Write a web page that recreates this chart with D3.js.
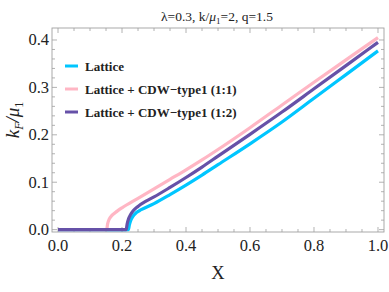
<!DOCTYPE html>
<html>
<head>
<meta charset="utf-8">
<script src="https://cdn.jsdelivr.net/npm/d3@7"></script>
<style>
  body { margin: 0; background: #fff; }
  text { font-family: "Liberation Serif", "DejaVu Serif", serif; }
</style>
</head>
<body>
<svg id="chart" width="389" height="292"></svg>
<script>
// values
const xLattice = [0, 0.22, 0.223, 0.227, 0.233, 0.245, 0.26, 0.3, 0.35, 0.4, 0.45, 0.5, 0.6, 0.7, 0.8, 0.9, 1.0]
const yLattice = [0, 0, 0.01, 0.019, 0.027, 0.036, 0.042, 0.055, 0.074, 0.094, 0.115, 0.137, 0.181, 0.227, 0.277, 0.327, 0.377]

const xCdw11 = [0, 0.152, 0.155, 0.16, 0.17, 0.185, 0.2, 0.25, 0.3, 0.35, 0.4, 0.45, 0.5, 0.6, 0.7, 0.8, 0.9, 1.0]
const yCdw11 = [0, 0, 0.012, 0.022, 0.031, 0.039, 0.046, 0.066, 0.086, 0.106, 0.126, 0.147, 0.169, 0.215, 0.263, 0.311, 0.358, 0.405]

const xCdw12 = [0, 0.213, 0.216, 0.22, 0.227, 0.235, 0.25, 0.275, 0.3, 0.35, 0.4, 0.45, 0.5, 0.6, 0.7, 0.8, 0.9, 1.0]
const yCdw12 = [0, 0, 0.012, 0.022, 0.032, 0.04, 0.049, 0.06, 0.069, 0.089, 0.11, 0.132, 0.155, 0.201, 0.248, 0.297, 0.346, 0.395]

const seriesNames = ["Lattice", "Lattice + CDW\u2212type1 (1:1)", "Lattice + CDW\u2212type1 (1:2)"]
const seriesColors = ["#00c6ff", "#ffb6c4", "#6651a8"]

const xTicks = [0, 0.2, 0.4, 0.6, 0.8, 1.0]
const yTicks = [0, 0.1, 0.2, 0.3, 0.4]

const svg = d3.select("#chart")
const margin = { left: 52, right: 5, top: 28, bottom: 60 }
const width = 389, height = 292

const x = d3.scaleLinear().domain([-0.0188, 1.0188]).range([margin.left, width - margin.right])
const y = d3.scaleLinear().domain([-0.005, 0.4253]).range([height - margin.bottom, margin.top])

const frameColor = "#a0a0a0"
const x0 = x.range()[0], x1 = x.range()[1]
const y0 = y.range()[0], y1 = y.range()[1]

// ticks (major + minor) on all four sides, pointing inward
const xMinor = d3.range(0, 1.0001, 0.05)
const yMinor = d3.range(0, 0.42, 0.02)
const ticks = svg.append("g").attr("stroke", frameColor).attr("stroke-width", 0.8)
xMinor.forEach(v => {
  const major = xTicks.some(t => Math.abs(t - v) < 1e-6)
  const len = major ? 5 : 3
  ticks.append("line").attr("x1", x(v)).attr("x2", x(v)).attr("y1", y0).attr("y2", y0 - len)
  ticks.append("line").attr("x1", x(v)).attr("x2", x(v)).attr("y1", y1).attr("y2", y1 + len)
})
yMinor.forEach(v => {
  const major = yTicks.some(t => Math.abs(t - v) < 1e-6)
  const len = major ? 5 : 3
  ticks.append("line").attr("y1", y(v)).attr("y2", y(v)).attr("x1", x0).attr("x2", x0 + len)
  ticks.append("line").attr("y1", y(v)).attr("y2", y(v)).attr("x1", x1).attr("x2", x1 - len)
})

svg.append("rect")
  .attr("x", x0).attr("y", y1).attr("width", x1 - x0).attr("height", y0 - y1)
  .attr("fill", "none").attr("stroke", frameColor).attr("stroke-width", 0.9)

// tick labels
svg.append("g").selectAll("text").data(xTicks).enter().append("text")
  .attr("x", d => x(d)).attr("y", y0 + 19)
  .attr("text-anchor", "middle").attr("font-size", 16.5).attr("fill", "#222")
  .text(d => d.toFixed(1))
svg.append("g").selectAll("text").data(yTicks).enter().append("text")
  .attr("x", x0 - 3).attr("y", d => y(d) + 5.5)
  .attr("text-anchor", "end").attr("font-size", 16.5).attr("fill", "#222")
  .text(d => d.toFixed(1))

// curves
const line = d3.line().x(d => x(d[0])).y(d => y(d[1])).curve(d3.curveMonotoneX)
const data = [
  d3.zip(xLattice, yLattice),
  d3.zip(xCdw11, yCdw11),
  d3.zip(xCdw12, yCdw12),
]
svg.append("g").selectAll("path").data([0, 1, 2]).enter().append("path")
  .attr("d", i => line(data[i]))
  .attr("fill", "none")
  .attr("stroke", i => seriesColors[i])
  .attr("stroke-width", 3.2)
  .attr("stroke-linejoin", "round")

// legend
const legend = svg.append("g")
seriesNames.forEach((name, i) => {
  const ly = 66 + i * 23
  legend.append("line").attr("x1", 65).attr("x2", 78).attr("y1", ly).attr("y2", ly)
    .attr("stroke", seriesColors[i]).attr("stroke-width", 3)
  legend.append("text").attr("x", 85).attr("y", ly + 4.5)
    .attr("font-size", 13).attr("font-weight", "bold").attr("fill", "#222")
    .text(name)
})

// title
const title = svg.append("text").attr("x", 217).attr("y", 21)
  .attr("text-anchor", "middle").attr("font-size", 13.5).attr("fill", "#222")
title.append("tspan").text("\u03bb=0.3, k/")
title.append("tspan").attr("font-style", "italic").text("\u03bc")
title.append("tspan").attr("font-size", 9).attr("dy", 3).text("1")
title.append("tspan").attr("dy", -3).text("=2, q=1.5")

// axis labels
svg.append("text").attr("x", 218).attr("y", 278.5)
  .attr("text-anchor", "middle").attr("font-size", 18.5).attr("fill", "#222").text("X")

const yl = svg.append("text").attr("transform", "translate(19,120) rotate(-90)")
  .attr("text-anchor", "middle").attr("font-size", 19).attr("fill", "#222")
yl.append("tspan").attr("font-style", "italic").text("k")
yl.append("tspan").attr("font-style", "italic").attr("font-size", 12).attr("dy", 4).text("F")
yl.append("tspan").attr("dy", -4).attr("font-style", "italic").text("/\u03bc")
yl.append("tspan").attr("font-size", 12).attr("dy", 4).text("1")
</script>
</body>
</html>
